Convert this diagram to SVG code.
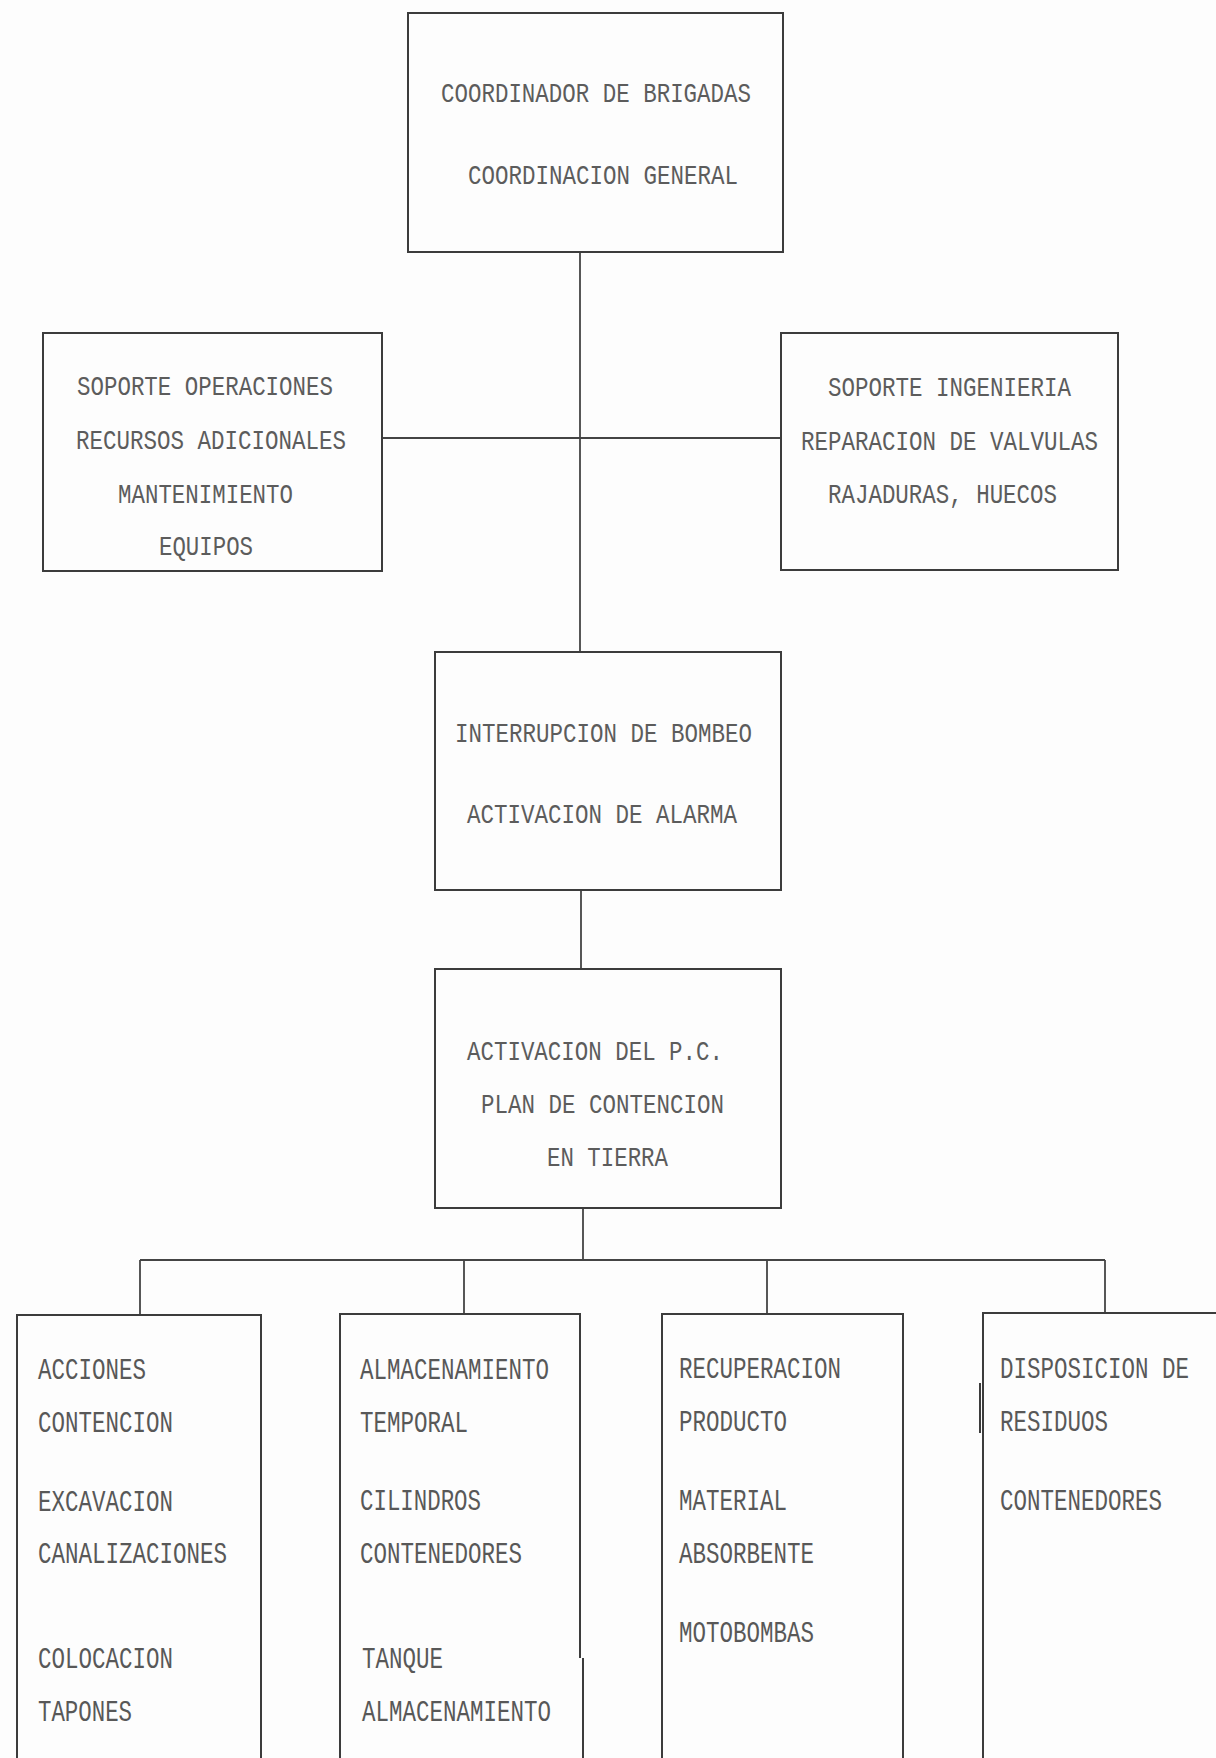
<svg xmlns="http://www.w3.org/2000/svg" width="1216" height="1758" viewBox="0 0 1216 1758">
  <style>
    .bg { fill: #fdfdfd; }
    .box { fill: none; stroke: #3c3c3c; stroke-width: 2; }
    .link { fill: none; stroke: #444; stroke-width: 1.8; }
    .t { font-family: "Liberation Mono", "DejaVu Sans Mono", monospace; font-size: 28px; fill: #5c5c5c; }
    .tb { font-family: "Liberation Mono", "DejaVu Sans Mono", monospace; font-size: 30px; fill: #585858; }
  </style>
  <rect class="bg" x="0" y="0" width="1216" height="1758"/>

  <!-- connectors -->
  <g id="connectors">
    <line class="link" x1="580" y1="252" x2="580" y2="652"/>
    <line class="link" x1="382" y1="438" x2="781" y2="438"/>
    <line class="link" x1="581" y1="890" x2="581" y2="969"/>
    <line class="link" x1="583" y1="1208" x2="583" y2="1260"/>
    <line class="link" x1="140" y1="1260" x2="1105" y2="1260"/>
    <line class="link" x1="140" y1="1260" x2="140" y2="1315"/>
    <line class="link" x1="464" y1="1260" x2="464" y2="1314"/>
    <line class="link" x1="767" y1="1260" x2="767" y2="1314"/>
    <line class="link" x1="1105" y1="1260" x2="1105" y2="1313"/>
  </g>

  <!-- coordinator -->
  <g id="coordinador">
    <rect class="box" x="408" y="13" width="375" height="239"/>
    <text class="t" x="441" y="102" textLength="310" lengthAdjust="spacingAndGlyphs">COORDINADOR DE BRIGADAS</text>
    <text class="t" x="468" y="184" textLength="270" lengthAdjust="spacingAndGlyphs">COORDINACION GENERAL</text>
  </g>

  <!-- operations support -->
  <g id="soporte-operaciones">
    <rect class="box" x="43" y="333" width="339" height="238"/>
    <text class="t" x="77" y="395" textLength="256" lengthAdjust="spacingAndGlyphs">SOPORTE OPERACIONES</text>
    <text class="t" x="76" y="449" textLength="270" lengthAdjust="spacingAndGlyphs">RECURSOS ADICIONALES</text>
    <text class="t" x="118" y="503" textLength="175" lengthAdjust="spacingAndGlyphs">MANTENIMIENTO</text>
    <text class="t" x="159" y="555" textLength="94" lengthAdjust="spacingAndGlyphs">EQUIPOS</text>
  </g>

  <!-- engineering support -->
  <g id="soporte-ingenieria">
    <rect class="box" x="781" y="333" width="337" height="237"/>
    <text class="t" x="828" y="396" textLength="243" lengthAdjust="spacingAndGlyphs">SOPORTE INGENIERIA</text>
    <text class="t" x="801" y="450" textLength="297" lengthAdjust="spacingAndGlyphs">REPARACION DE VALVULAS</text>
    <text class="t" x="828" y="503" textLength="229" lengthAdjust="spacingAndGlyphs">RAJADURAS, HUECOS</text>
  </g>

  <!-- pumping interruption -->
  <g id="interrupcion">
    <rect class="box" x="435" y="652" width="346" height="238"/>
    <text class="t" x="455" y="742" textLength="297" lengthAdjust="spacingAndGlyphs">INTERRUPCION DE BOMBEO</text>
    <text class="t" x="467" y="823" textLength="270" lengthAdjust="spacingAndGlyphs">ACTIVACION DE ALARMA</text>
  </g>

  <!-- containment plan -->
  <g id="plan-contencion">
    <rect class="box" x="435" y="969" width="346" height="239"/>
    <text class="t" x="467" y="1060" textLength="256" lengthAdjust="spacingAndGlyphs">ACTIVACION DEL P.C.</text>
    <text class="t" x="481" y="1113" textLength="243" lengthAdjust="spacingAndGlyphs">PLAN DE CONTENCION</text>
    <text class="t" x="547" y="1166" textLength="121" lengthAdjust="spacingAndGlyphs">EN TIERRA</text>
  </g>

  <!-- containment actions -->
  <g id="acciones">
    <path class="box" d="M17 1760 V1315 H261 V1760"/>
    <text class="tb" x="38" y="1379" textLength="108" lengthAdjust="spacingAndGlyphs">ACCIONES</text>
    <text class="tb" x="38" y="1432" textLength="135" lengthAdjust="spacingAndGlyphs">CONTENCION</text>
    <text class="tb" x="38" y="1511" textLength="135" lengthAdjust="spacingAndGlyphs">EXCAVACION</text>
    <text class="tb" x="38" y="1563" textLength="189" lengthAdjust="spacingAndGlyphs">CANALIZACIONES</text>
    <text class="tb" x="38" y="1668" textLength="135" lengthAdjust="spacingAndGlyphs">COLOCACION</text>
    <text class="tb" x="38" y="1721" textLength="94" lengthAdjust="spacingAndGlyphs">TAPONES</text>
  </g>

  <!-- temporary storage -->
  <g id="almacenamiento">
    <path class="box" d="M340 1760 V1314 H580 V1658 M583 1658 V1760"/>
    <text class="tb" x="360" y="1379" textLength="189" lengthAdjust="spacingAndGlyphs">ALMACENAMIENTO</text>
    <text class="tb" x="360" y="1432" textLength="108" lengthAdjust="spacingAndGlyphs">TEMPORAL</text>
    <text class="tb" x="360" y="1510" textLength="121" lengthAdjust="spacingAndGlyphs">CILINDROS</text>
    <text class="tb" x="360" y="1563" textLength="162" lengthAdjust="spacingAndGlyphs">CONTENEDORES</text>
    <text class="tb" x="362" y="1668" textLength="81" lengthAdjust="spacingAndGlyphs">TANQUE</text>
    <text class="tb" x="362" y="1721" textLength="189" lengthAdjust="spacingAndGlyphs">ALMACENAMIENTO</text>
  </g>

  <!-- product recovery -->
  <g id="recuperacion">
    <path class="box" d="M662 1760 V1314 H903 V1760"/>
    <text class="tb" x="679" y="1378" textLength="162" lengthAdjust="spacingAndGlyphs">RECUPERACION</text>
    <text class="tb" x="679" y="1431" textLength="108" lengthAdjust="spacingAndGlyphs">PRODUCTO</text>
    <text class="tb" x="679" y="1510" textLength="108" lengthAdjust="spacingAndGlyphs">MATERIAL</text>
    <text class="tb" x="679" y="1563" textLength="135" lengthAdjust="spacingAndGlyphs">ABSORBENTE</text>
    <text class="tb" x="679" y="1642" textLength="135" lengthAdjust="spacingAndGlyphs">MOTOBOMBAS</text>
  </g>

  <!-- waste disposal -->
  <g id="disposicion">
    <path class="box" d="M983 1760 V1313 H1216"/>
    <line class="box" x1="980" y1="1383" x2="980" y2="1433"/>
    <text class="tb" transform="scale(0.75,1)" x="1333.3" y="1378">DISPOSICION DE</text>
    <text class="tb" x="1000" y="1431" textLength="108" lengthAdjust="spacingAndGlyphs">RESIDUOS</text>
    <text class="tb" x="1000" y="1510" textLength="162" lengthAdjust="spacingAndGlyphs">CONTENEDORES</text>
  </g>
</svg>
